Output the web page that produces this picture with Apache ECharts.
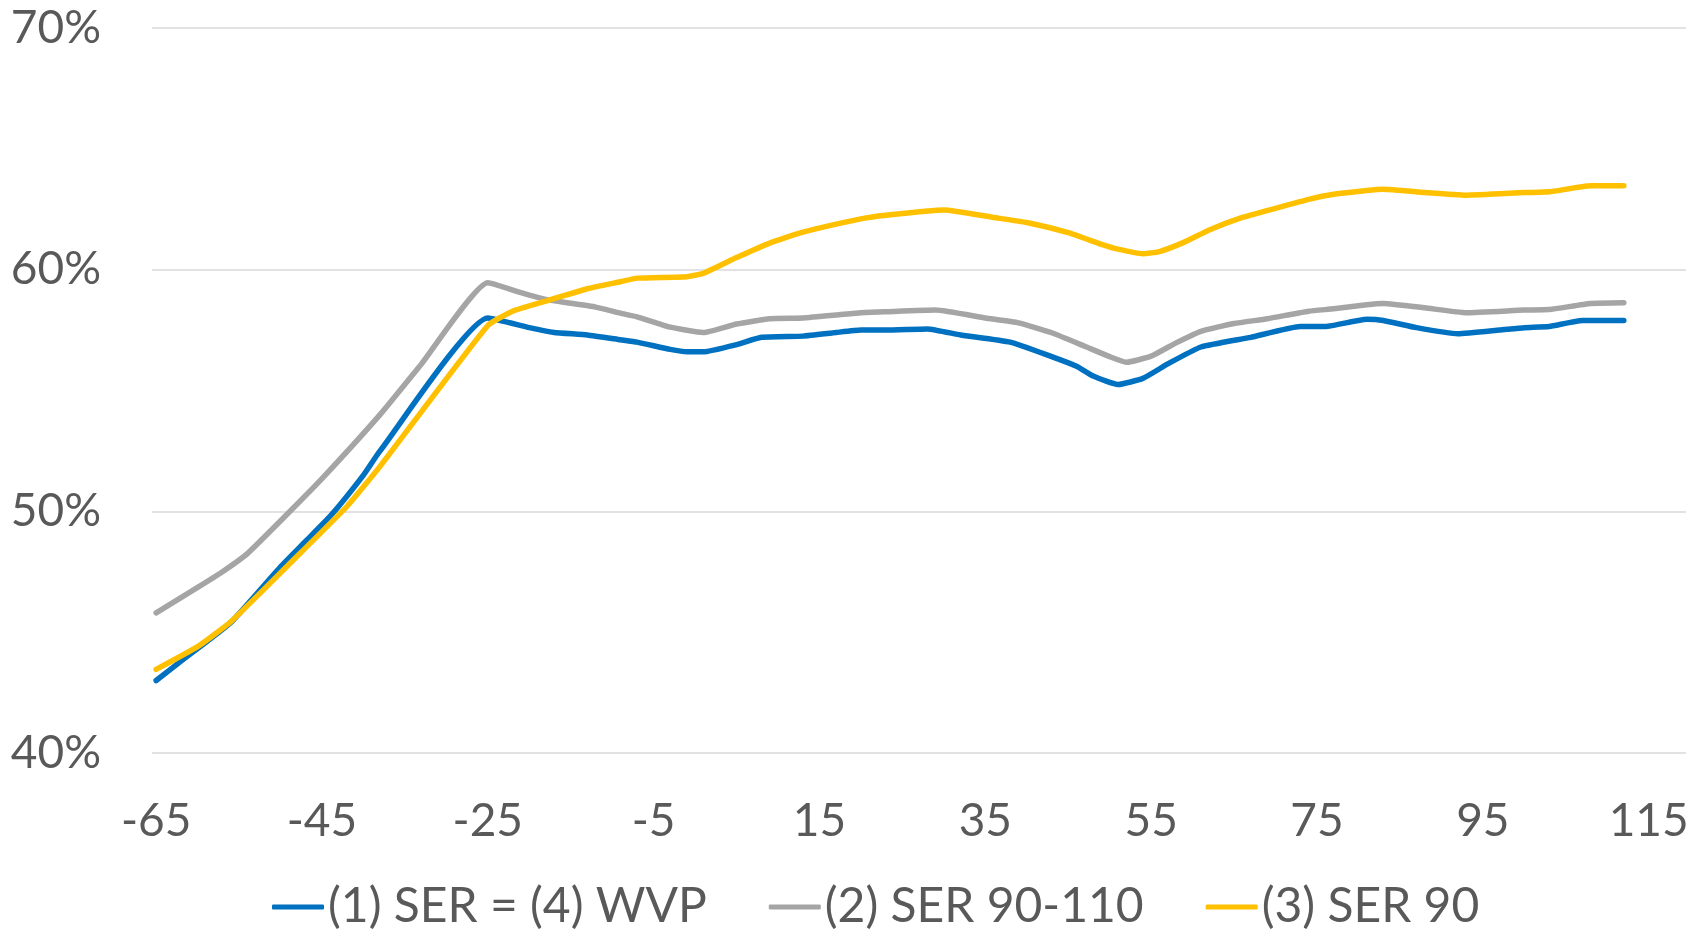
<!DOCTYPE html>
<html>
<head>
<meta charset="utf-8">
<script src="https://cdn.jsdelivr.net/npm/echarts@6.0.0/dist/echarts.min.js"></script>
<style>
  html, body { margin: 0; padding: 0; background: #fff; }
  #chart { width: 1706px; height: 936px; }
</style>
</head>
<body>
<div id="chart"></div>
<script>
const xTicks = [-65, -45, -25, -5, 15, 35, 55, 75, 95, 115];
const yTicks = [40, 50, 60, 70];

// (1) SER = (4) WVP
const serWvpX = [-65, -62, -56, -50, -47, -44, -40, -38, -25, -20, -17, -13, -9, -7, -3, -1, 1, 5, 8, 13, 17, 20, 23, 28, 32, 38, 43, 46, 48, 51, 54, 57, 61, 67, 73, 76, 81, 83, 87, 92, 97, 100, 103, 107, 112];
const serWvpY = [43.0, 43.8, 45.4, 47.7, 48.75, 49.8, 51.5, 52.5, 58.0, 57.6, 57.4, 57.3, 57.1, 57.0, 56.7, 56.6, 56.6, 56.9, 57.2, 57.25, 57.4, 57.5, 57.5, 57.55, 57.3, 57.0, 56.4, 56.0, 55.6, 55.25, 55.5, 56.1, 56.8, 57.2, 57.65, 57.65, 57.95, 57.9, 57.6, 57.35, 57.5, 57.6, 57.65, 57.9, 57.9];

// (2) SER 90-110
const ser90110X = [-65, -60, -57, -54, -49, -45, -38, -33, -25, -21, -18, -12, -9, -7, -3, 1, 5, 9, 13, 17, 20, 23, 29, 35, 39, 43, 47, 50, 52, 55, 58, 61, 65, 69, 74, 77, 81, 83, 88, 93, 100, 103, 108, 112];
const ser90110Y = [45.8, 46.85, 47.5, 48.25, 49.95, 51.35, 54.0, 56.1, 59.46, 59.05, 58.77, 58.45, 58.2, 58.05, 57.62, 57.4, 57.75, 57.97, 58.0, 58.12, 58.22, 58.26, 58.33, 58.0, 57.8, 57.39, 56.83, 56.4, 56.17, 56.42, 56.97, 57.45, 57.77, 57.97, 58.28, 58.38, 58.55, 58.6, 58.42, 58.22, 58.33, 58.35, 58.6, 58.63];

// (3) SER 90
const ser90X = [-65, -60, -56, -49, -42, -38, -25, -22, -18, -13, -9, -7, -1, 1, 5, 9, 13, 20, 23, 30, 36, 40, 45, 49, 51, 54, 56, 59, 62, 66, 70, 74, 77, 81, 83, 88, 93, 100, 103, 108, 112];
const ser90Y = [43.46, 44.4, 45.43, 47.8, 50.2, 51.86, 57.69, 58.28, 58.7, 59.21, 59.5, 59.65, 59.71, 59.85, 60.5, 61.1, 61.55, 62.1, 62.25, 62.47, 62.16, 61.95, 61.53, 61.05, 60.85, 60.66, 60.75, 61.14, 61.64, 62.16, 62.54, 62.91, 63.12, 63.28, 63.33, 63.19, 63.08, 63.19, 63.22, 63.47, 63.47];

const pairs = (xs, ys) => xs.map((x, i) => [x, ys[i]]);

const font = 'Lato, "Open Sans", sans-serif';
const textColor = '#595959';

const makeSeries = (name, xs, ys, color) => ({
  name: name,
  type: 'line',
  data: pairs(xs, ys),
  showSymbol: false,
  symbol: 'none',
  smooth: 0.15,
  lineStyle: { color: color, width: 5.5, cap: 'round', join: 'round' },
  itemStyle: { color: color },
  emphasis: { disabled: true }
});

const chart = echarts.init(document.getElementById('chart'));
chart.setOption({
  animation: false,
  backgroundColor: '#ffffff',
  grid: { left: 152, right: 20, top: 28, bottom: 183 },
  xAxis: {
    type: 'value',
    min: -65.5,
    max: 119.5,
    axisLine: { show: false },
    axisTick: { show: false },
    splitLine: { show: false },
    axisLabel: {
      customValues: xTicks,
      color: textColor,
      fontFamily: font,
      fontSize: 46,
      lineHeight: 46,
      margin: 45
    }
  },
  yAxis: {
    type: 'value',
    min: yTicks[0],
    max: yTicks[yTicks.length - 1],
    interval: 10,
    axisLine: { show: false },
    axisTick: { show: false },
    splitLine: { lineStyle: { color: '#D9D9D9', width: 1.5 } },
    axisLabel: {
      formatter: '{value}%',
      color: textColor,
      fontFamily: font,
      fontSize: 46,
      margin: 51
    }
  },
  legend: {
    left: 267,
    top: 878,
    icon: 'roundRect',
    itemWidth: 52,
    itemHeight: 5,
    itemGap: 62,
    textStyle: { color: textColor, fontFamily: font, fontSize: 48, padding: [0, 0, 0, -1] },
    data: ['(1) SER = (4) WVP', '(2) SER 90-110', '(3) SER 90']
  },
  series: [
    makeSeries('(1) SER = (4) WVP', serWvpX, serWvpY, '#0070C0'),
    makeSeries('(2) SER 90-110', ser90110X, ser90110Y, '#A5A5A5'),
    makeSeries('(3) SER 90', ser90X, ser90Y, '#FFC000')
  ]
});
</script>
</body>
</html>
